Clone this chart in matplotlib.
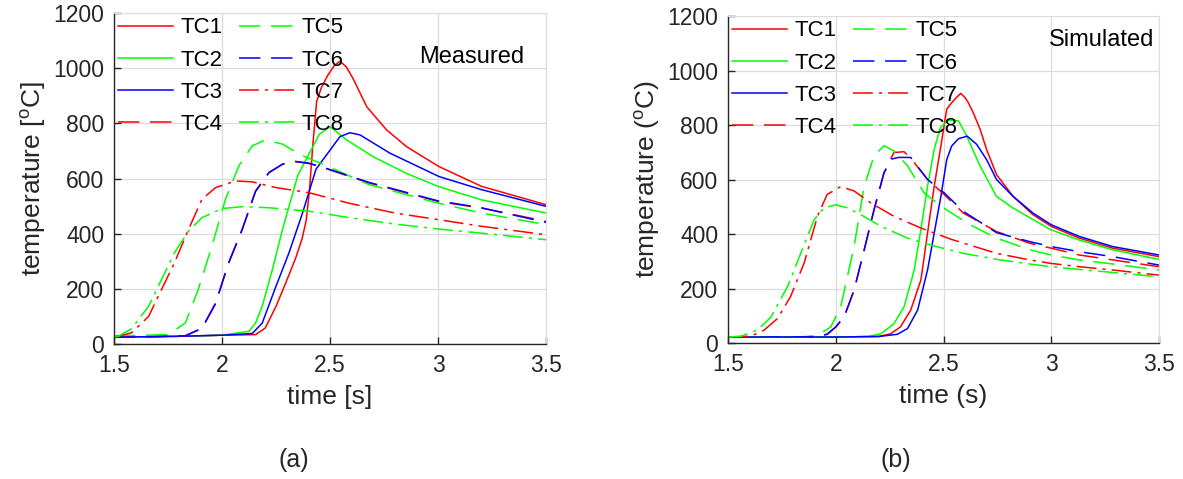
import matplotlib
matplotlib.use("Agg")
import matplotlib.pyplot as plt

# ---- data (time in s, temperature in degC) ----
# (a) measured
MEAS_TC1_T = [1.5, 1.8, 2.0, 2.155, 2.2, 2.25, 2.295, 2.34, 2.37, 2.39, 2.405, 2.42, 2.438, 2.46, 2.49, 2.52, 2.546, 2.575, 2.608, 2.67, 2.762, 2.855, 3.005, 3.2, 3.5]
MEAS_TC1_Y = [25, 28, 32, 34, 58, 137, 222, 310, 380, 450, 560, 720, 880, 930, 975, 1010, 1025, 1005, 960, 860, 776, 715, 643, 572, 505]
MEAS_TC2_T = [1.5, 1.8, 2.0, 2.124, 2.155, 2.186, 2.233, 2.28, 2.35, 2.41, 2.45, 2.5, 2.577, 2.7, 2.855, 3.005, 3.2, 3.5]
MEAS_TC2_Y = [25, 28, 32, 46, 76, 137, 270, 416, 610, 700, 760, 788, 740, 679, 618, 570, 523, 475]
MEAS_TC3_T = [1.5, 1.8, 2.0, 2.14, 2.186, 2.25, 2.31, 2.373, 2.435, 2.5, 2.546, 2.592, 2.639, 2.777, 3.005, 3.2, 3.5]
MEAS_TC3_Y = [25, 28, 32, 38, 76, 210, 331, 476, 634, 703, 752, 766, 758, 692, 607, 560, 499]
MEAS_TC4_T = [1.5, 1.7, 1.83, 1.907, 1.97, 2.03, 2.093, 2.155, 2.217, 2.28, 2.34, 2.4, 2.466, 2.68, 3.0, 3.2, 3.5]
MEAS_TC4_Y = [25, 27, 30, 58, 149, 295, 416, 555, 622, 652, 661, 655, 640, 584, 517, 493, 445]
MEAS_TC5_T = [1.5, 1.6, 1.75, 1.83, 1.89, 1.953, 2.016, 2.078, 2.14, 2.2, 2.28, 2.357, 2.466, 2.68, 3.0, 3.2, 3.5]
MEAS_TC5_Y = [30, 31, 34, 76, 198, 355, 525, 646, 719, 739, 725, 688, 652, 578, 511, 475, 433]
MEAS_TC6_T = [1.5, 1.7, 1.83, 1.907, 1.97, 2.03, 2.093, 2.155, 2.217, 2.28, 2.34, 2.4, 2.466, 2.68, 3.0, 3.2, 3.5]
MEAS_TC6_Y = [25, 27, 30, 56, 146, 292, 414, 553, 621, 652, 662, 656, 641, 586, 519, 494, 441]
MEAS_TC7_T = [1.5, 1.58, 1.66, 1.72, 1.78, 1.845, 1.907, 1.97, 2.062, 2.14, 2.25, 2.4, 2.59, 2.8, 3.0, 3.2, 3.5]
MEAS_TC7_Y = [25, 40, 100, 198, 295, 416, 525, 567, 591, 588, 567, 549, 510, 475, 451, 427, 396]
MEAS_TC8_T = [1.5, 1.52, 1.58, 1.66, 1.72, 1.78, 1.845, 1.907, 2.0, 2.093, 2.217, 2.4, 2.59, 2.8, 3.0, 3.2, 3.5]
MEAS_TC8_Y = [27, 28, 55, 137, 234, 331, 410, 458, 491, 498, 494, 482, 458, 435, 417, 402, 378]

# (b) simulated
SIM_TC1_T = [1.5, 2.0, 2.2, 2.255, 2.3, 2.348, 2.395, 2.426, 2.457, 2.488, 2.515, 2.538, 2.56, 2.58, 2.6, 2.615, 2.638, 2.67, 2.7, 2.746, 2.823, 2.915, 3.0, 3.13, 3.285, 3.5]
SIM_TC1_Y = [22, 22, 24, 34, 59, 121, 231, 404, 576, 724, 858, 882, 901, 916, 901, 882, 845, 784, 710, 618, 538, 471, 428, 385, 348, 317]
SIM_TC2_T = [1.5, 2.0, 2.15, 2.21, 2.27, 2.317, 2.364, 2.395, 2.426, 2.457, 2.485, 2.523, 2.57, 2.608, 2.67, 2.746, 2.823, 3.0, 3.13, 3.285, 3.5]
SIM_TC2_Y = [22, 22, 24, 34, 71, 133, 268, 416, 576, 711, 790, 818, 815, 759, 649, 538, 495, 415, 378, 342, 307]
SIM_TC3_T = [1.5, 2.0, 2.2, 2.286, 2.333, 2.38, 2.426, 2.457, 2.488, 2.515, 2.538, 2.57, 2.61, 2.654, 2.7, 2.746, 2.823, 2.915, 3.0, 3.13, 3.285, 3.5]
SIM_TC3_Y = [22, 22, 24, 32, 53, 121, 268, 404, 539, 673, 723, 750, 759, 729, 673, 600, 538, 477, 434, 391, 354, 323]
SIM_TC4_T = [1.5, 1.9, 1.96, 2.0, 2.039, 2.085, 2.132, 2.178, 2.224, 2.27, 2.317, 2.364, 2.426, 2.503, 2.592, 2.746, 2.9, 3.0, 3.13, 3.285, 3.5]
SIM_TC4_Y = [22, 23, 32, 59, 96, 194, 342, 490, 625, 699, 702, 662, 600, 545, 477, 409, 366, 348, 323, 305, 280]
SIM_TC5_T = [1.5, 1.85, 1.915, 1.977, 2.023, 2.085, 2.132, 2.178, 2.224, 2.27, 2.333, 2.41, 2.488, 2.623, 2.746, 2.9, 3.0, 3.13, 3.285, 3.5]
SIM_TC5_Y = [22, 23, 28, 59, 133, 354, 576, 687, 724, 705, 650, 551, 502, 434, 385, 342, 323, 305, 290, 268]
SIM_TC6_T = [1.5, 1.9, 1.96, 2.0, 2.039, 2.085, 2.132, 2.178, 2.224, 2.26, 2.29, 2.348, 2.426, 2.503, 2.592, 2.746, 2.9, 3.0, 3.13, 3.285, 3.5]
SIM_TC6_Y = [22, 23, 32, 59, 96, 194, 342, 490, 625, 675, 681, 681, 600, 551, 483, 405, 372, 354, 335, 317, 286]
SIM_TC7_T = [1.5, 1.605, 1.667, 1.73, 1.79, 1.853, 1.915, 1.96, 2.023, 2.085, 2.163, 2.27, 2.395, 2.534, 2.746, 2.9, 3.0, 3.13, 3.285, 3.5]
SIM_TC7_Y = [22, 25, 47, 90, 170, 293, 465, 545, 574, 558, 514, 465, 422, 381, 329, 305, 292, 280, 268, 249]
SIM_TC8_T = [1.5, 1.56, 1.636, 1.7, 1.776, 1.838, 1.9, 1.946, 2.0, 2.054, 2.116, 2.21, 2.333, 2.438, 2.592, 2.746, 2.9, 3.0, 3.13, 3.285, 3.5]
SIM_TC8_Y = [22, 25, 47, 96, 207, 330, 453, 496, 507, 496, 471, 428, 385, 360, 329, 307, 290, 280, 270, 259, 243]

LABELS = ["TC1", "TC2", "TC3", "TC4", "TC5", "TC6", "TC7", "TC8"]
X_TICKS = [1.5, 2, 2.5, 3, 3.5]
Y_TICKS = [0, 200, 400, 600, 800, 1000, 1200]

RED, GREEN, BLUE = "#ff0000", "#00ff00", "#0000ff"
DASH = (0, (14, 7))
DASHDOT = (0, (13, 4, 2, 4))
STYLES = [
    (RED, "-"), (GREEN, "-"), (BLUE, "-"), (RED, DASH),
    (GREEN, DASH), (BLUE, DASH), (RED, DASHDOT), (GREEN, DASHDOT),
]

plt.rcParams["font.family"] = ["Liberation Sans", "DejaVu Sans"]
plt.rcParams["mathtext.fontset"] = "custom"
plt.rcParams["mathtext.rm"] = "Liberation Sans"
TEXT_COLOR = "#262626"


def style_axes(ax, ylabel, xlabel):
    ax.set_xlim(1.5, 3.5)
    ax.set_ylim(0, 1200)
    ax.set_xticks(X_TICKS)
    ax.set_xticklabels([f"{t:g}" for t in X_TICKS])
    ax.set_yticks(Y_TICKS)
    ax.grid(True, color="#dcdcdc", linewidth=0.9)
    ax.set_axisbelow(True)
    ax.tick_params(direction="in", length=5, width=1, colors=TEXT_COLOR,
                   labelsize=16.5, pad=7)
    for side in ("left", "bottom"):
        ax.spines[side].set_color(TEXT_COLOR)
        ax.spines[side].set_linewidth(1)
    for side in ("top", "right"):
        ax.spines[side].set_color("#dcdcdc")
    ax.set_xlabel(xlabel, fontsize=19, color=TEXT_COLOR, labelpad=6)
    ax.set_ylabel(ylabel, fontsize=19, color=TEXT_COLOR, labelpad=4)


def draw_panel(ax, series):
    for (t, y), (color, ls), label in zip(series, STYLES, LABELS):
        ax.plot(t, y, color=color, linestyle=ls, linewidth=1.1, label=label)
    ax.legend(loc="upper left", ncol=2, frameon=False, fontsize=16,
              handlelength=2.45, handletextpad=0.35, columnspacing=0.75,
              labelspacing=0.5, borderaxespad=0.05, borderpad=0.15,
              labelcolor="black")


fig = plt.figure(figsize=(11.83, 4.79), dpi=100)
ax_a = fig.add_axes([0.0964, 0.2818, 0.3652, 0.691])
ax_b = fig.add_axes([0.6154, 0.2839, 0.3643, 0.6827])

draw_panel(ax_a, [
    (MEAS_TC1_T, MEAS_TC1_Y), (MEAS_TC2_T, MEAS_TC2_Y), (MEAS_TC3_T, MEAS_TC3_Y),
    (MEAS_TC4_T, MEAS_TC4_Y), (MEAS_TC5_T, MEAS_TC5_Y), (MEAS_TC6_T, MEAS_TC6_Y),
    (MEAS_TC7_T, MEAS_TC7_Y), (MEAS_TC8_T, MEAS_TC8_Y),
])
draw_panel(ax_b, [
    (SIM_TC1_T, SIM_TC1_Y), (SIM_TC2_T, SIM_TC2_Y), (SIM_TC3_T, SIM_TC3_Y),
    (SIM_TC4_T, SIM_TC4_Y), (SIM_TC5_T, SIM_TC5_Y), (SIM_TC6_T, SIM_TC6_Y),
    (SIM_TC7_T, SIM_TC7_Y), (SIM_TC8_T, SIM_TC8_Y),
])

style_axes(ax_a, r"temperature [$^\mathregular{o}$C]", "time [s]")
style_axes(ax_b, r"temperature ($^\mathregular{o}$C)", "time (s)")

narrow = ["Liberation Sans Narrow", "Liberation Sans", "DejaVu Sans"]
ax_a.text(3.40, 1040, "Measured", ha="right", va="center", fontsize=17,
          family=narrow, color="black")
ax_b.text(3.477, 1111, "Simulated", ha="right", va="center", fontsize=17,
          family=narrow, color="black")

fig.text(294 / 1183, 1 - 460 / 479, "(a)", ha="center", va="center",
         fontsize=18, color=TEXT_COLOR)
fig.text(896 / 1183, 1 - 460 / 479, "(b)", ha="center", va="center",
         fontsize=18, color=TEXT_COLOR)

fig.savefig("out.png", dpi=100)
